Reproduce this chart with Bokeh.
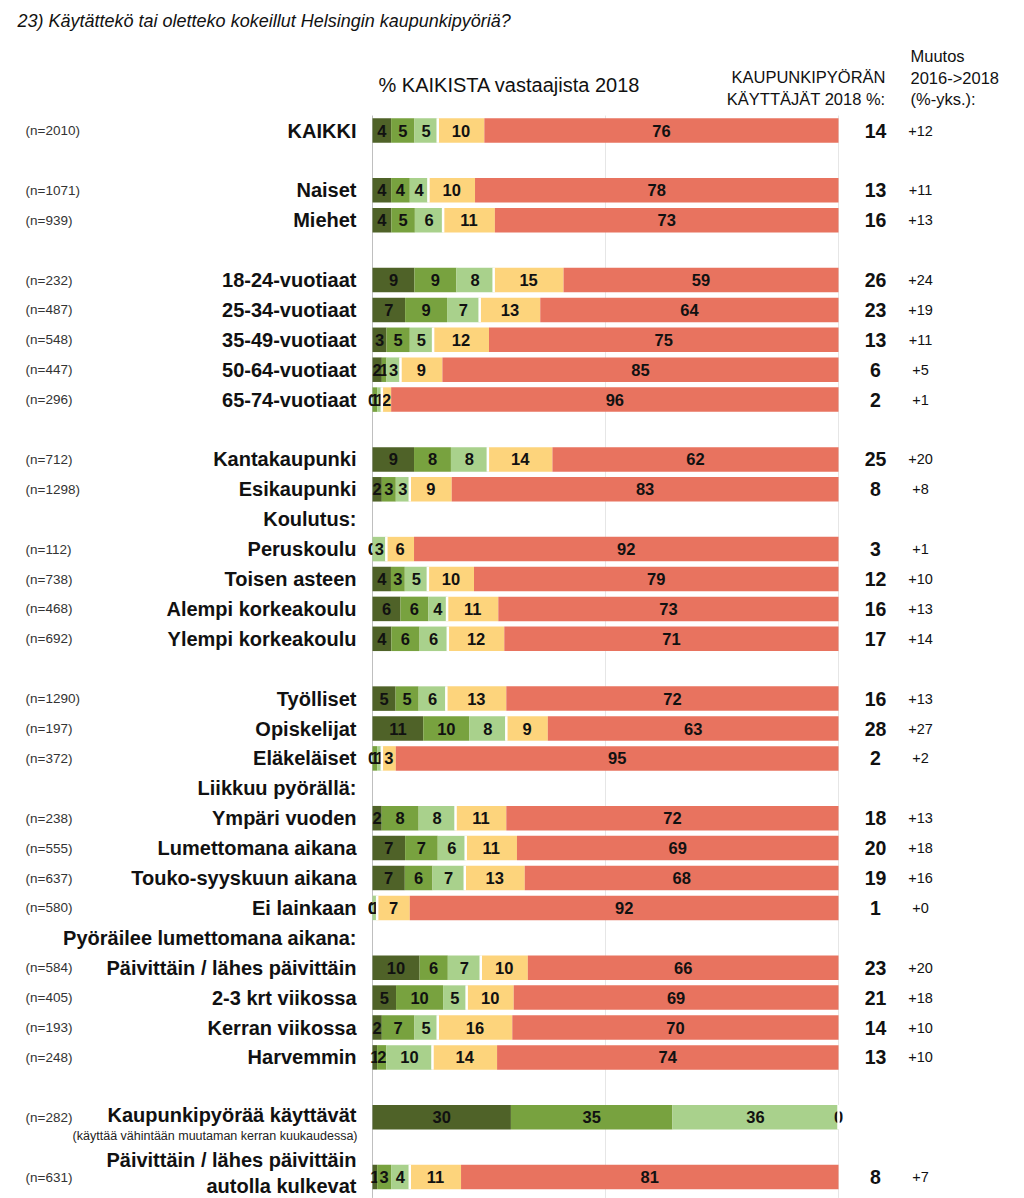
from bokeh.plotting import figure
from bokeh.models import Range1d
from bokeh.core.properties import value
from bokeh.embed import file_html
from bokeh.resources import INLINE

# ---------------- data ----------------
categories = [
    "KAIKKI", "", "Naiset", "Miehet", "",
    "18-24-vuotiaat", "25-34-vuotiaat", "35-49-vuotiaat", "50-64-vuotiaat", "65-74-vuotiaat", "",
    "Kantakaupunki", "Esikaupunki", "Koulutus:",
    "Peruskoulu", "Toisen asteen", "Alempi korkeakoulu", "Ylempi korkeakoulu", "",
    "Työlliset", "Opiskelijat", "Eläkeläiset", "Liikkuu pyörällä:",
    "Ympäri vuoden", "Lumettomana aikana", "Touko-syyskuun aikana", "Ei lainkaan",
    "Pyöräilee lumettomana aikana:",
    "Päivittäin / lähes päivittäin", "2-3 krt viikossa", "Kerran viikossa", "Harvemmin", "",
    "Kaupunkipyörää käyttävät", "",
    "Päivittäin / lähes päivittäin\nautolla kulkevat",
]
n_values = [2010, None, 1071, 939, None,
            232, 487, 548, 447, 296, None,
            712, 1298, None,
            112, 738, 468, 692, None,
            1290, 197, 372, None,
            238, 555, 637, 580,
            None,
            584, 405, 193, 248, None,
            282, None,
            631]
dark = [4, None, 4, 4, None,
        9, 7, 3, 2, 0, None,
        9, 2, None,
        0, 4, 6, 4, None,
        5, 11, 0, None,
        2, 7, 7, 0,
        None,
        10, 5, 2, 1, None,
        30, None,
        1]
medium = [5, None, 4, 5, None,
          9, 9, 5, 1, 1, None,
          8, 3, None,
          0, 3, 6, 6, None,
          5, 10, 1, None,
          8, 7, 6, 0,
          None,
          6, 10, 7, 2, None,
          35, None,
          3]
light = [5, None, 4, 6, None,
         8, 7, 5, 3, 1, None,
         8, 3, None,
         3, 5, 4, 6, None,
         6, 8, 1, None,
         8, 6, 7, 1,
         None,
         7, 5, 5, 10, None,
         36, None,
         4]
yellow = [10, None, 10, 11, None,
          15, 13, 12, 9, 2, None,
          14, 9, None,
          6, 10, 11, 12, None,
          13, 9, 3, None,
          11, 11, 13, 7,
          None,
          10, 10, 16, 14, None,
          0, None,
          11]
red = [76, None, 78, 73, None,
       59, 64, 75, 85, 96, None,
       62, 83, None,
       92, 79, 73, 71, None,
       72, 63, 95, None,
       72, 69, 68, 92,
       None,
       66, 69, 70, 74, None,
       None, None,
       81]
users = [14, None, 13, 16, None,
         26, 23, 13, 6, 2, None,
         25, 8, None,
         3, 12, 16, 17, None,
         16, 28, 2, None,
         18, 20, 19, 1,
         None,
         23, 21, 14, 13, None,
         None, None,
         8]
change = ["+12", None, "+11", "+13", None,
          "+24", "+19", "+11", "+5", "+1", None,
          "+20", "+8", None,
          "+1", "+10", "+13", "+14", None,
          "+13", "+27", "+2", None,
          "+13", "+18", "+16", "+0",
          None,
          "+20", "+18", "+10", "+10", None,
          None, None,
          "+7"]
series = [dark, medium, light, yellow, red]
colors = ["#4f6228", "#78a23f", "#a9d18c", "#fdd47c", "#e8735f"]

title = "23) Käytättekö tai oletteko kokeillut Helsingin kaupunkipyöriä?"
subtitle_users = "(käyttää vähintään muutaman kerran kuukaudessa)"
header_bars = "% KAIKISTA vastaajista 2018"
header_users = ["KAUPUNKIPYÖRÄN", "KÄYTTÄJÄT 2018 %:"]
header_change = ["Muutos", "2016->2018", "(%-yks.):"]

# ---------------- layout ----------------
W, H = 1024, 1198
PX = 4.66          # pixels per percent
X0 = 372           # pixel of 0 %
ROW = 29.9         # pixels per row
Y0 = 130           # pixel of first row centre

p = figure(width=W, height=H, output_backend="svg", toolbar_location=None,
           x_range=Range1d(-X0 / PX, (W - X0) / PX),
           y_range=Range1d((H - Y0) / ROW, -Y0 / ROW),
           x_axis_location=None, y_axis_location=None, min_border=0)
p.grid.visible = False
p.outline_line_color = None
p.background_fill_color = "white"


def xp(px):
    return (px - X0) / PX


def yp(py):
    return (py - Y0) / ROW


FONT = value("Liberation Sans")
TXT = "#111111"

nrows = len(categories)
# grid lines
p.segment(x0=[0, 50, 100], y0=[-0.5] * 3, x1=[0, 50, 100], y1=[nrows - 0.3] * 3,
          line_color=["#bfbfbf", "#e6e6e6", "#e6e6e6"], line_width=1)

# 100 % stacked bars (each row normalised to 100)
totals = []
for i in range(nrows):
    vs = [s[i] for s in series if s[i] is not None]
    totals.append(sum(vs) if vs else None)

BH = 0.82
for s_idx, (vals, col) in enumerate(zip(series, colors)):
    ys, lefts, rights, labs, xs = [], [], [], [], []
    for i in range(nrows):
        v = vals[i]
        if v is None:
            continue
        k = 100.0 / totals[i]
        left = sum(series[j][i] for j in range(s_idx) if series[j][i] is not None) * k
        ys.append(i)
        lefts.append(left)
        rights.append(left + v * k)
        labs.append(str(v))
        xs.append(left + v * k / 2)
    p.hbar(y=ys, left=lefts, right=rights, height=BH, fill_color=col, line_color=None)
    p.text(x=xs, y=ys, text=labs, text_align="center", text_baseline="middle",
           text_font=FONT, text_font_style="bold", text_font_size="16.5px", text_color=TXT)

# white separator between green and yellow parts
sx, sy = [], []
for i in range(nrows):
    if yellow[i] is None:
        continue
    sx.append((dark[i] + medium[i] + light[i]) * 100.0 / totals[i])
    sy.append(i)
p.segment(x0=sx, y0=[y - BH / 2 for y in sy], x1=sx, y1=[y + BH / 2 for y in sy],
          line_color="white", line_width=2.5)

# category labels
cy, ct = [], []
for i, c in enumerate(categories):
    if c:
        cy.append(i - (0.13 if "\n" in c else 0) - (0.07 if c == "Kaupunkipyörää käyttävät" else 0))
        ct.append(c)
p.text(x=[xp(356)] * len(cy), y=cy, text=ct, text_align="right", text_baseline="middle",
       text_font=FONT, text_font_style="bold", text_font_size="20px", text_color=TXT,
       text_line_height=1.2)
ku = categories.index("Kaupunkipyörää käyttävät")
p.text(x=[xp(357)], y=[ku + 0.63], text=[subtitle_users], text_align="right",
       text_baseline="middle", text_font=FONT, text_font_size="12.5px", text_color="#222222")

# n labels
ny, nt = [], []
for i, n in enumerate(n_values):
    if n is not None:
        ny.append(i)
        nt.append(f"(n={n})")
p.text(x=[xp(25)] * len(ny), y=ny, text=nt, text_align="left", text_baseline="middle",
       text_font=FONT, text_font_size="13.5px", text_color="#333333")

# users column
uy, ut = [], []
for i, u in enumerate(users):
    if u is not None:
        uy.append(i)
        ut.append(str(u))
p.text(x=[xp(875)] * len(uy), y=uy, text=ut, text_align="center", text_baseline="middle",
       text_font=FONT, text_font_style="bold", text_font_size="19.5px", text_color=TXT)

# change column
gy, gt = [], []
for i, g in enumerate(change):
    if g is not None:
        gy.append(i)
        gt.append(g)
p.text(x=[xp(920)] * len(gy), y=gy, text=gt, text_align="center", text_baseline="middle",
       text_font=FONT, text_font_size="14.5px", text_color=TXT)

# headers
p.text(x=[xp(17)], y=[yp(20)], text=[title], text_align="left", text_baseline="middle",
       text_font=FONT, text_font_style="italic", text_font_size="18px", text_color=TXT)
p.text(x=[xp(378)], y=[yp(84)], text=[header_bars], text_align="left",
       text_baseline="middle", text_font=FONT, text_font_size="20px", text_color=TXT)
p.text(x=[xp(885)] * 2, y=[yp(76), yp(98)], text=header_users,
       text_align="right", text_baseline="middle", text_font=FONT, text_font_size="16.5px",
       text_color=TXT)
p.text(x=[xp(910)] * 3, y=[yp(55), yp(77), yp(98)], text=header_change,
       text_align="left", text_baseline="middle", text_font=FONT, text_font_size="16.5px",
       text_color=TXT)

open("out.html", "w").write(file_html(p, INLINE))
